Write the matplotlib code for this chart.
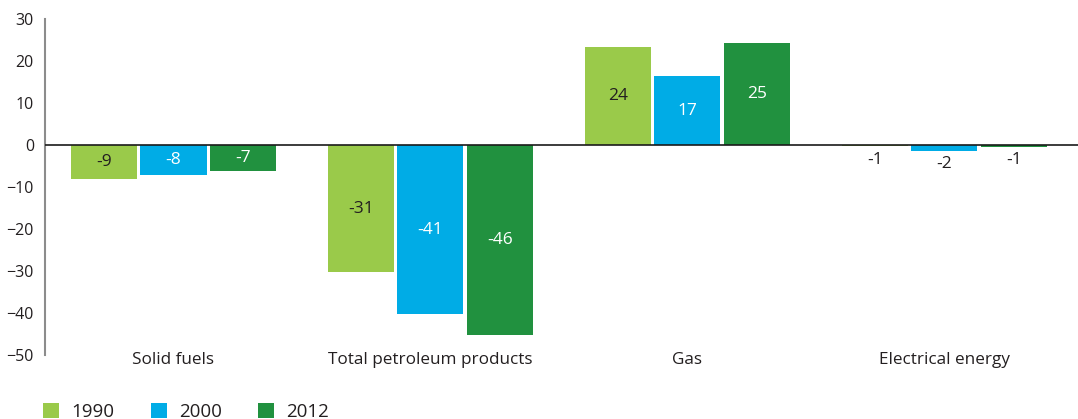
import matplotlib
matplotlib.use("Agg")

import matplotlib.pyplot as plt
import numpy as np
from matplotlib.patches import Patch


categories = ["Solid fuels", "Total petroleum products", "Gas", "Electrical energy"]
years = ["1990", "2000", "2012"]

# bar heights as drawn in the picture, and the printed labels
heights_1990 = [-8.2, -30.3, 23.3, -0.3]
heights_2000 = [-7.2, -40.3, 16.4, -1.4]
heights_2012 = [-6.2, -45.3, 24.3, -0.4]
labels_1990 = ["-9", "-31", "24", "-1"]
labels_2000 = ["-8", "-41", "17", "-2"]
labels_2012 = ["-7", "-46", "25", "-1"]

colors = ["#9aca4a", "#00ace6", "#21913f"]
label_colors = ["#231f20", "white", "white"]
TEXT = "#231f20"

plt.rcParams["font.family"] = ["Open Sans", "DejaVu Sans"]

fig = plt.figure(figsize=(10.78, 4.19), dpi=100)
ax = fig.add_axes([45 / 1078, 1 - 355 / 419, 1 - 45 / 1078, (355 - 19) / 419])

x = np.arange(len(categories))
width = 0.257
step = 0.271
series = [
    (heights_1990, labels_1990),
    (heights_2000, labels_2000),
    (heights_2012, labels_2012),
]
for i, (heights, labels) in enumerate(series):
    xs = x + (i - 1) * step
    ax.bar(xs, heights, width=width, color=colors[i], lw=0)
    for xi, h, lab in zip(xs, heights, labels):
        if abs(h) < 2:
            ax.annotate(lab, (xi, h), xytext=(0, -4), textcoords="offset points",
                        ha="center", va="top", fontsize=12.5, color=TEXT)
        else:
            ax.text(xi, h / 2, lab, ha="center", va="center", fontsize=12.5,
                    color=label_colors[i])

ax.axhline(0, color="#1a1a1a", lw=1.2, zorder=3)
ax.set_xlim(-0.5, 3.52)
ax.set_ylim(-50, 30)
ax.set_yticks(range(-50, 31, 10))
ax.set_xticks(x, categories)
ax.tick_params(axis="y", length=0, pad=8, labelsize=11.5, labelcolor=TEXT)
ax.tick_params(axis="x", length=0, pad=-2, labelsize=12.3, labelcolor=TEXT)

for side in ("top", "right", "bottom"):
    ax.spines[side].set_visible(False)
ax.spines["left"].set_color("#8c8c8c")
ax.spines["left"].set_linewidth(1.5)

handles = [Patch(facecolor=c, lw=0) for c in colors]
fig.legend(handles, years, loc="center left", bbox_to_anchor=(43 / 1078, 7 / 419),
           ncol=3, frameon=False, fontsize=13.5, handlelength=0.85, handleheight=0.85,
           handletextpad=0.65, columnspacing=1.95, borderpad=0, borderaxespad=0,
           labelcolor=TEXT)

fig.savefig("out.png", dpi=100)
